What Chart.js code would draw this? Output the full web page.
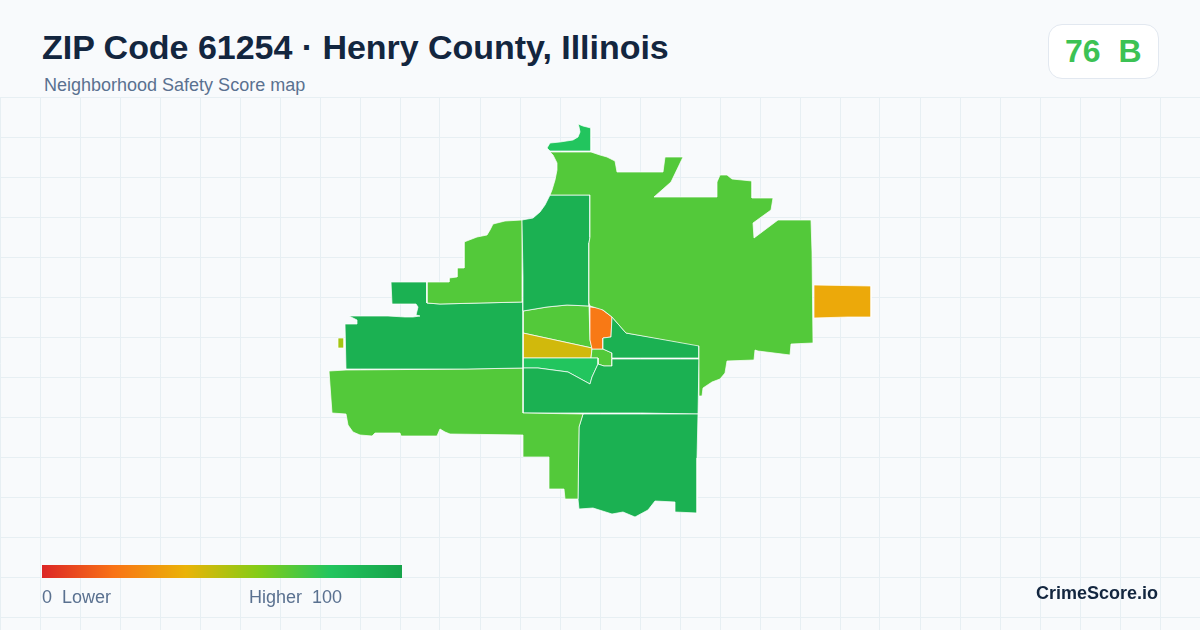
<!DOCTYPE html>
<html>
<head>
<meta charset="utf-8">
<title>ZIP Code 61254</title>
<script src="https://cdn.jsdelivr.net/npm/chart.js@4/dist/chart.umd.js"></script>
<style>
    html, body { margin: 0; padding: 0; }
    body { width: 1200px; height: 630px; position: relative; overflow: hidden; background: #f8fafc; font-family: "Liberation Sans", Arial, sans-serif; }
    #map { position: absolute; left: 0; top: 97px; }
    .txt { position: absolute; white-space: pre; }
    #title { left: 42px; top: 27px; font-size: 34px; line-height: 40px; font-weight: 700; letter-spacing: -0.03px; color: #13263f; }
    #subtitle { left: 44px; top: 75px; font-size: 18px; line-height: 20px; color: #5a7190; }
    #badge { position: absolute; left: 1048px; top: 24px; width: 109px; height: 53px; background: #fff; border: 1px solid #e2e8f0; border-radius: 14px; }
    #score { left: 1065px; top: 32px; font-size: 32px; line-height: 38px; font-weight: 700; color: #3cc254; }
    #scale { position: absolute; left: 42px; top: 565px; width: 360px; height: 13px; }
    #low { left: 42px; top: 587px; font-size: 18px; line-height: 20px; color: #5a7190; }
    #high { left: 249px; top: 587px; font-size: 18px; line-height: 20px; color: #5a7190; }
    #brand { right: 42px; top: 583px; font-size: 18px; line-height: 20px; font-weight: 700; color: #13263f; }
</style>
</head>
<body>
<canvas id="map" width="1200" height="533"></canvas>
<div id="title" class="txt">ZIP Code 61254 · Henry County, Illinois</div>
<div id="subtitle" class="txt">Neighborhood Safety Score map</div>
<div id="badge"></div>
<div id="score" class="txt">76  B</div>
<div id="scale"></div>
<div id="low" class="txt">0  Lower</div>
<div id="high" class="txt">Higher  100</div>
<div id="brand" class="txt">CrimeScore.io</div>

<script>
// score colour ramp, same stops as the legend bar
const rampStops = [0, 20, 40, 60, 80, 100];
const rampColors = ['#dc2626', '#f97316', '#eab308', '#84cc16', '#22c55e', '#16a34a'];

// grid rows and columns
const gridCols = [0, 40, 80, 120, 160, 200, 240, 280, 320, 360, 400, 440, 480, 520, 560, 600, 640, 680, 720, 760, 800, 840, 880, 920, 960, 1000, 1040, 1080, 1120, 1160, 1200];
const gridRows = [97, 137, 177, 217, 257, 297, 337, 377, 417, 457, 497, 537, 577, 617];

// tract outlines, as [x, y] map units
const northHook = [[578,124],[583,126],[591,128],[591,151],[550,151],[547,148],[550,143],[560,142],[573,140],[578,137],[580,132],[579,127]];
const northEast = [[550,152],[591,152],[600,155],[607,157],[615,161],[617,172],[648,172],[663,172],[665,157],[683,157],[671,182],[654,197],[717,197],[717,182],[720,175],[727,175],[732,179],[752,181],[752,198],[773,198],[771,210],[753,223],[754,238],[778,220],[811,220],[812,252],[813,343],[791,344],[790,355],[758,351],[755,350],[754,360],[727,361],[725,373],[720,379],[712,382],[703,388],[702,396],[699,396],[699,346],[626,333],[612,317],[603,310],[590,306],[589,303],[589,243],[590,237],[590,195],[550,195],[552,190],[555,180],[557,170],[557,163],[553,155]];
const northCentral = [[550,195],[590,195],[590,237],[589,243],[589,306],[567,305],[547,307],[523,311],[523,300],[523,277],[522,220],[533,218],[540,212],[545,205]];
const northWest = [[522,220],[505,221],[493,224],[490,230],[487,235],[477,237],[464,242],[464,268],[457,268],[457,277],[449,278],[449,282],[427,282],[427,303],[440,304],[480,303],[522,302]];
const west = [[391,282],[427,282],[427,303],[440,304],[480,303],[523,302],[523,368],[467,369],[346,369],[345,324],[357,324],[357,320],[349,316],[388,316],[405,317],[413,317],[420,316],[416,315],[418,307],[416,304],[392,304]];
const southWest = [[329,371],[346,370],[467,369],[523,368],[523,413],[583,414],[579,427],[578,499],[565,499],[564,489],[549,489],[549,457],[523,457],[523,435],[450,434],[445,432],[440,429],[437,436],[401,436],[400,433],[375,433],[372,436],[360,435],[353,432],[348,425],[346,414],[332,413]];
const south = [[583,414],[698,414],[697,458],[697,513],[675,512],[675,502],[655,501],[648,510],[635,517],[623,512],[612,514],[593,508],[579,509],[578,499],[579,427]];
const midSouth = [[523,368],[538,368],[568,372],[590,384],[592,377],[598,364],[604,366],[612,366],[612,359],[699,359],[698,414],[642,413],[523,413]];
const midWedge = [[523,358],[598,358],[598,364],[592,377],[590,384],[568,372],[538,368],[523,368]];
const midEast = [[612,317],[626,333],[699,345],[699,358],[612,358],[612,353],[603,349],[603,343],[603,338],[611,337]];
const downtown = [[590,307],[600,308],[612,317],[611,337],[603,338],[603,343],[603,349],[592,349],[590,340]];
const center = [[592,349],[603,349],[612,353],[612,366],[604,366],[598,364],[598,358],[591,358]];
const goldWedge = [[523,333],[592,348],[591,358],[523,358]];
const midNorth = [[523,311],[547,307],[567,305],[589,306],[590,340],[592,348],[523,333]];
const eastBlock = [[814,285],[871,286],[871,317],[848,317],[814,318]];
const westSpeck = [[338,338],[344,338],[344,348],[338,348]];

// scores estimated from each tract's colour, same order as tractRings
const tractRings = [northHook, northEast, northCentral, northWest, west, southWest, south, midSouth, midWedge, midEast, downtown, center, goldWedge, midNorth, eastBlock, westSpeck];
const tractScores = [80, 70, 92, 70, 92, 70, 92, 92, 80, 92, 22, 70, 45, 70, 37, 54];

function hexToRgb(h) {
    return [1, 3, 5].map(i => parseInt(h.slice(i, i + 2), 16));
}

function scoreColor(score) {
    let i = 0;
    while (i < rampStops.length - 2 && score > rampStops[i + 1]) i++;
    const t = (score - rampStops[i]) / (rampStops[i + 1] - rampStops[i]);
    const a = hexToRgb(rampColors[i]);
    const b = hexToRgb(rampColors[i + 1]);
    const c = a.map((v, k) => Math.round(v + (b[k] - v) * t));
    return `rgb(${c[0]}, ${c[1]}, ${c[2]})`;
}

document.getElementById('scale').style.background = 'linear-gradient(to right, '
    + rampColors.map((c, i) => `${c} ${rampStops[i]}%`).join(', ') + ')';

const datasets = tractRings.map((ring, i) => {
    const color = scoreColor(tractScores[i]);
    return {
        data: ring.concat([ring[0]]).map(p => ({ x: p[0], y: p[1] })),
        showLine: true,
        fill: 'shape',
        backgroundColor: color,
        borderColor: 'rgba(255, 255, 255, 0.9)',
        borderWidth: 0.8,
        pointRadius: 0,
        tension: 0
    };
});

const ctx = document.getElementById('map').getContext('2d');

new Chart(ctx, {
    type: 'scatter',
    data: { datasets: datasets },
    options: {
        responsive: false,
        animation: false,
        layout: { padding: 0 },
        plugins: { legend: { display: false }, tooltip: { enabled: false } },
        scales: {
            x: {
                type: 'linear',
                min: 0,
                max: 1200,
                afterBuildTicks: s => { s.ticks = gridCols.map(v => ({ value: v })); },
                ticks: { display: false, autoSkip: false },
                grid: { color: '#e7eff3', lineWidth: 1, drawTicks: false },
                border: { display: false }
            },
            y: {
                type: 'linear',
                reverse: true,
                min: 97,
                max: 630,
                afterBuildTicks: s => { s.ticks = gridRows.map(v => ({ value: v })); },
                ticks: { display: false, autoSkip: false },
                grid: { color: '#e7eff3', lineWidth: 1, drawTicks: false },
                border: { display: false }
            }
        }
    }
});
</script>
</body>
</html>
